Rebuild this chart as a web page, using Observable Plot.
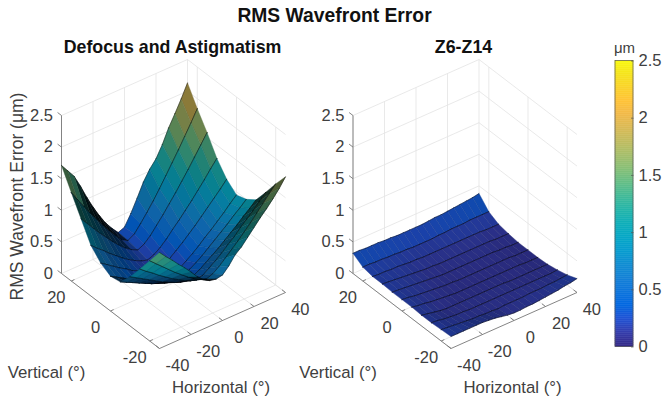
<!DOCTYPE html>
<html>
<head>
<meta charset="utf-8">
<style>html,body{margin:0;padding:0;background:#fff}svg{display:block}</style>
<script src="https://cdn.jsdelivr.net/npm/d3@7"></script>
<script src="https://cdn.jsdelivr.net/npm/@observablehq/plot@0.6"></script>
</head>
<body>
<script>
// ---------- data ----------
const horizontal = [-40,-36,-32,-28,-24,-20,-16,-12,-8,-4,0,4,8,12,16,20,24,28,32,36,40];
const vertical = [25,20,15,10,5,0,-5,-10,-15,-20,-25];
const defocusAstig = [
[1.71,1.58,1.45,1.25,1.03,.83,.65,.49,.36,.25,.29,.46,.66,.87,1.03,1.15,1.33,1.55,1.73,1.92,2.13],
[1.40,1.24,1.09,.94,.80,.66,.53,.41,.30,.24,.30,.42,.55,.69,.84,1.00,1.16,1.32,1.49,1.66,1.84],
[1.10,.98,.86,.74,.63,.52,.42,.33,.26,.21,.26,.35,.47,.59,.72,.85,.99,1.13,1.28,1.43,1.58],
[.80,.71,.63,.54,.46,.38,.31,.25,.20,.17,.21,.28,.37,.48,.58,.69,.80,.92,1.04,1.17,1.29],
[.64,.57,.50,.43,.37,.30,.25,.20,.16,.14,.17,.23,.31,.39,.48,.57,.67,.77,.87,.97,1.08],
[.55,.49,.43,.37,.31,.25,.20,.16,.12,.11,.14,.19,.26,.33,.41,.50,.58,.67,.76,.86,.95],
[.58,.53,.48,.43,.38,.33,.29,.25,.22,.21,.24,.29,.35,.42,.50,.58,.66,.74,.83,.91,1.00],
[.78,.72,.66,.60,.54,.48,.43,.38,.34,.32,.35,.40,.47,.54,.61,.69,.77,.85,.94,1.02,1.11],
[1.02,.94,.87,.79,.72,.65,.59,.53,.48,.45,.48,.55,.62,.70,.79,.87,.97,1.06,1.15,1.25,1.35],
[1.27,1.18,1.09,1.00,.91,.83,.75,.68,.62,.58,.62,.69,.78,.87,.96,1.06,1.16,1.27,1.38,1.49,1.60],
[1.52,1.41,1.31,1.20,1.10,.99,.87,.78,.72,.70,.72,.82,.95,1.03,1.14,1.25,1.36,1.46,1.57,1.69,1.83]
];
const z6z14 = [
[.32,.32,.31,.31,.31,.30,.30,.29,.29,.29,.29,.29,.30,.31,.31,.32,.33,.34,.35,.36,.38],
[.22,.22,.21,.21,.20,.20,.19,.19,.18,.18,.18,.18,.19,.19,.20,.20,.20,.21,.21,.21,.21],
[.19,.18,.18,.17,.17,.16,.15,.15,.14,.14,.14,.14,.14,.14,.14,.14,.14,.14,.13,.13,.13],
[.19,.18,.17,.16,.15,.14,.13,.12,.12,.11,.11,.11,.11,.11,.11,.11,.11,.11,.10,.10,.10],
[.18,.17,.16,.15,.14,.13,.12,.11,.10,.10,.10,.10,.10,.10,.10,.10,.10,.09,.09,.08,.08],
[.18,.17,.15,.14,.13,.12,.11,.10,.10,.09,.09,.09,.09,.09,.09,.09,.09,.09,.08,.08,.08],
[.18,.16,.15,.13,.12,.11,.10,.09,.09,.09,.09,.09,.09,.09,.09,.09,.09,.09,.08,.08,.08],
[.17,.15,.13,.11,.10,.10,.10,.10,.10,.10,.10,.10,.10,.10,.09,.09,.09,.09,.09,.09,.09],
[.17,.16,.14,.13,.12,.12,.11,.11,.11,.11,.11,.11,.11,.11,.11,.11,.11,.11,.11,.11,.12],
[.18,.17,.16,.15,.14,.13,.13,.12,.12,.11,.12,.12,.12,.12,.13,.13,.13,.14,.14,.15,.16],
[.19,.19,.19,.19,.19,.19,.18,.17,.15,.13,.12,.12,.13,.13,.14,.15,.16,.17,.19,.20,.22]
];
const xTicks = [-40,-20,0,20,40];
const yTicks = [-20,0,20];
const zTicks = [0,.5,1,1.5,2,2.5];
const barTicks = [0,.5,1,1.5,2,2.5];
const chartTitle = "RMS Wavefront Error";
const panelTitles = ["Defocus and Astigmatism","Z6-Z14"];
const zLabel = "RMS Wavefront Error (μm)";
const xLabel = "Horizontal (°)";
const yLabel = "Vertical (°)";
const barTitle = "μm";

// ---------- parula colormap ----------
const parula = ["#352a87","#353dad","#2053d4","#0268e1","#0d75dc","#1481d6","#108ed2","#079ccf","#06a7c6","#0faeb9","#25b5a9","#42ba98","#65be86","#87bf77","#a5be6b","#c0bc60","#d9ba56","#f1b94a","#ffc337","#fad32a","#f5e41d","#f9fb0e"];
const colorOpts = {domain:[0,2.5], interpolate:d3.piecewise(d3.interpolateRgb, parula)};
const colorScale = Plot.scale({color:colorOpts});

// ---------- 3-D view of the axes box ----------
const offsets = [0,291.5];
const px = (o,h,v) => o + 173 + 1.575*h - 1.96*v;
const py = (h,v,z) => 282.5 - 0.7*h - 1.5*v - 63.2*z;

function surfaceRows(grid,o,pid){
  const rows=[]; let id=0;
  const add=(pts,f,s,w,a)=>{id++;for(const p of pts)rows.push({g:pid+"-"+id,sx:p[0],sy:p[1],f,s,w,a});};
  for(let j=0;j<vertical.length-1;j++){
    for(let i=horizontal.length-2;i>=0;i--){
      const h0=horizontal[i],h1=horizontal[i+1],v0=vertical[j],v1=vertical[j+1];
      const z00=grid[j][i],z10=grid[j][i+1],z01=grid[j+1][i],z11=grid[j+1][i+1];
      const A=[px(o,h0,v0),py(h0,v0,z00)],B=[px(o,h1,v0),py(h1,v0,z10)],C=[px(o,h1,v1),py(h1,v1,z11)],D=[px(o,h0,v1),py(h0,v1,z01)];
      const e1=[B[0]-A[0],B[1]-A[1]],e2=[D[0]-A[0],D[1]-A[1]];
      const ratio=Math.abs(e1[0]*e2[1]-e1[1]*e2[0])/(Math.hypot(...e1)*Math.hypot(...e2)+1e-6);
      const shade=Math.min(.95,.2+.95*Math.pow(1-ratio,1.6));
      const c=d3.rgb(colorScale.apply((z00+z10+z01+z11)/4));
      const col=d3.rgb(c.r*(1-shade),c.g*(1-shade),c.b*(1-shade)).formatRgb();
      add([A,B,C,D,A],col,col,.4,1);
      add([A,D],"none","#000",.4,.13);
      add([B,C],"none","#000",.4,.13);
      add([A,B],"none","#000",.6,.75);
      add([D,C],"none","#000",.6,.75);
    }
  }
  return rows;
}

const gridLinks=[],axisLinks=[],zLabels=[],floorLabels=[];
offsets.forEach((o,k)=>{
  for(const z of zTicks){
    gridLinks.push({x1:px(o,-40,25),y1:py(-40,25,z),x2:px(o,40,25),y2:py(40,25,z)});
    gridLinks.push({x1:px(o,40,25),y1:py(40,25,z),x2:px(o,40,-25),y2:py(40,-25,z)});
    axisLinks.push({x1:px(o,-40,25),y1:py(-40,25,z),x2:px(o,-40,27),y2:py(-40,27,z)});
    zLabels.push({t:String(z),x:px(o,-40,25)-8.5,y:py(-40,25,z)});
  }
  for(const h of xTicks){
    gridLinks.push({x1:px(o,h,25),y1:py(h,25,0),x2:px(o,h,25),y2:py(h,25,2.5)});
    gridLinks.push({x1:px(o,h,-25),y1:py(h,-25,0),x2:px(o,h,25),y2:py(h,25,0)});
    axisLinks.push({x1:px(o,h,-25),y1:py(h,-25,0),x2:px(o,h,-23.2),y2:py(h,-23.2,0)});
    floorLabels.push({t:String(h),x:px(o,h,-25)+18-(h+40)*0.04,y:py(h,-25,0)+17});
  }
  for(const v of yTicks){
    gridLinks.push({x1:px(o,40,v),y1:py(40,v,0),x2:px(o,40,v),y2:py(40,v,2.5)});
    gridLinks.push({x1:px(o,-40,v),y1:py(-40,v,0),x2:px(o,40,v),y2:py(40,v,0)});
    axisLinks.push({x1:px(o,-40,v),y1:py(-40,v,0),x2:px(o,-38,v),y2:py(-38,v,0)});
    floorLabels.push({t:String(v),x:px(o,-40,v)-15,y:py(-40,v,0)+17});
  }
  axisLinks.push({x1:px(o,-40,25),y1:py(-40,25,0),x2:px(o,-40,25),y2:py(-40,25,2.5)});
  axisLinks.push({x1:px(o,-40,25),y1:py(-40,25,0),x2:px(o,-40,-25),y2:py(-40,-25,0)});
  axisLinks.push({x1:px(o,-40,-25),y1:py(-40,-25,0),x2:px(o,40,-25),y2:py(40,-25,0)});
});

// ---------- colour bar ----------
const barX0=615,barX1=633,barTop=60.5,barBottom=346.5;
const barY=v=>barBottom-(barBottom-barTop)*v/2.5;
const barCells=d3.range(0,2.5,2.5/143).map(v=>({v,y1:barY(v),y2:barY(Math.min(2.5,v+2.5/143))}));

const text=(data,o)=>Plot.text(data,{fontFamily:"Liberation Sans",lineAnchor:"middle",...o});

const plot=Plot.plot({
  width:667,height:402,margin:0,
  style:{fontFamily:"Liberation Sans",background:"#fff"},
  x:{domain:[0,667],range:[0,667],axis:null},
  y:{domain:[0,402],range:[0,402],axis:null},
  color:colorOpts,
  marks:[
    Plot.link(gridLinks,{x1:"x1",y1:"y1",x2:"x2",y2:"y2",stroke:"#e3e3e3",strokeWidth:.8}),
    Plot.link(axisLinks,{x1:"x1",y1:"y1",x2:"x2",y2:"y2",stroke:"#777",strokeWidth:.9}),
    Plot.line(surfaceRows(defocusAstig,offsets[0],"a"),{x:"sx",y:"sy",z:"g",fill:{value:"f",scale:null},stroke:{value:"s",scale:null},strokeWidth:"w",strokeOpacity:{value:"a",scale:null}}),
    Plot.line(surfaceRows(z6z14,offsets[1],"b"),{x:"sx",y:"sy",z:"g",fill:{value:"f",scale:null},stroke:{value:"s",scale:null},strokeWidth:"w",strokeOpacity:{value:"a",scale:null}}),
    text(zLabels,{x:"x",y:"y",text:"t",textAnchor:"end",fontSize:16.5,fill:"#404040"}),
    text(floorLabels,{x:"x",y:"y",text:"t",textAnchor:"middle",fontSize:16.5,fill:"#404040"}),
    text([chartTitle],{x:()=>334,y:()=>15,text:d=>d,fontSize:19.3,fontWeight:"bold",fill:"#111"}),
    text(panelTitles,{x:(d,i)=>[172,463][i],y:()=>47,text:d=>d,fontSize:17.8,fontWeight:"bold",fill:"#111"}),
    text([zLabel],{x:()=>16.5,y:()=>196,text:d=>d,rotate:-90,fontSize:17.5,fill:"#404040"}),
    text(offsets,{x:o=>o+46,y:()=>372,text:()=>yLabel,fontSize:16.8,fill:"#404040"}),
    text(offsets,{x:o=>o+220.5,y:()=>387,text:()=>xLabel,fontSize:16.8,fill:"#404040"}),
    Plot.rect(barCells,{x1:()=>barX0,x2:()=>barX1,y1:"y1",y2:"y2",fill:"v",stroke:"v",strokeWidth:.5}),
    Plot.rect([0],{x1:()=>barX0,x2:()=>barX1,y1:()=>barTop,y2:()=>barBottom,fill:"none",stroke:"#555",strokeWidth:.7}),
    Plot.link(barTicks,{x1:()=>barX1-2.5,x2:()=>barX1,y1:v=>barY(v),y2:v=>barY(v),stroke:"#555",strokeWidth:.7}),
    text(barTicks,{x:()=>638,y:v=>barY(v),text:v=>String(v),textAnchor:"start",fontSize:16.5,fill:"#404040"}),
    text([barTitle],{x:()=>624,y:()=>48,text:d=>d,fontSize:15,fill:"#404040"})
  ]
});
document.body.appendChild(plot);
</script>
</body>
</html>
